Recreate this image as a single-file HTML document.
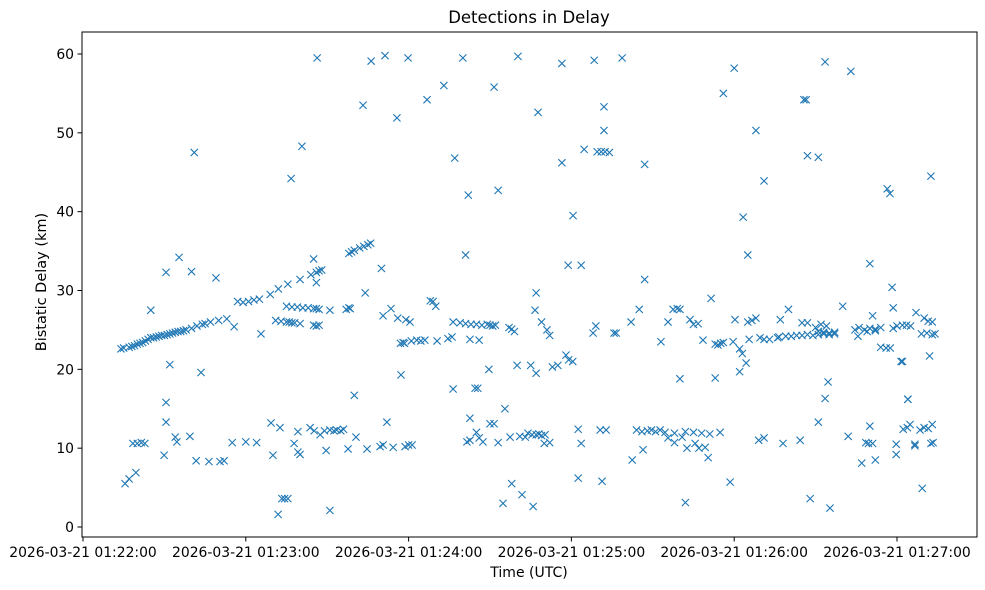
<!DOCTYPE html>
<html><head><meta charset="utf-8"><style>
html,body{margin:0;padding:0;background:#fff;}
svg{display:block;font-family:"DejaVu Sans","Liberation Sans",sans-serif;}
</style></head><body>
<svg id="chart" width="985" height="590" viewBox="0 0 985 590" xmlns="http://www.w3.org/2000/svg">
<rect x="0" y="0" width="985" height="590" fill="#fff"/>
<text x="529" y="23" text-anchor="middle" font-size="16.5" fill="#000">Detections in Delay</text>
<text x="0" y="0" transform="translate(46,282) rotate(-90)" text-anchor="middle" font-size="14.5" fill="#000">Bistatic Delay (km)</text>
<text x="529" y="577" text-anchor="middle" font-size="14" fill="#000">Time (UTC)</text>
<g id="marks"></g>
<g id="xticks"></g>
<g id="yticks"></g>
<rect x="82" y="32" width="895" height="505" fill="none" stroke="#000" stroke-width="1"/>
</svg>
<script>
// seconds after 2026-03-21 01:22:00
const times = [
14,15,17,18,19,20,21,22,23,24,25,26,27,28,29,30,31,32,33,34,35,36,37,38,40,42,44,45,47,50,53,
57,59,61,63,65,69,72,75.5,80,84,86,87,88,85,86,98,99,100,102,103.5,105,106,
71,73,75,76,77,78,80,75,77,79,81,83,85,86,87,85,86,87,91,97,98,98.5,
104,110,110.6,113.5,116,119,120.5,117,118,118.5,121,123,124.5,126,128,129,130,130.5,134.5,136,136.4,139,141,143,145,147,149,150,151,152,142.6,146,157,158,159,160,165,166.6,169,171,172,173,175,178,179,180.5,188,189,195.7,196.5,202,205,213,217.5,219,220,215.6,223.7,225,226.7,228.5,231.5,233,234,235,236,239.6,240.3,242,243,245,246.5,248,245.5,249.5,251,253,256,256.5,257,260,259,261,263,265,267,269,271,273,275,277,265,267,270,272,271,273,275,277,274,280,284.5,286,288,290,292,294,285.6,291,289,292,294,296,297.5,298.6,300,302,303.5,305,298.6,298.2,307,310,309,311,313,314,311.5,313,312,302,
41,35.4,30.6,40,49,25,32,43.5,55.7,65.6,76.7,80.7,86.3,103.2,106.2,111.3,115.7,119.8,126.8,133,137,140,142,141,151.5,153,160.3,167.7,167,176.5,176.5,180.6,178.8,183.6,184.7,188.4,189.5,191,192.4,192,192,194,198.7,207,207,236,240,243.3,245,248,251,265.7,266.5,267,271,273.5,283,290,296.4,297.4,312.5,136.4,144.5,145.5,149.6,100,117.2,167,220,233,242,244.4,274.6,273.5,301.5,304,271,
15.5,17,19.5,18.4,20,21.5,22.8,29.9,30.6,30.6,34,34.6,39.4,41.7,46.4,50.5,52,55,60,64,69.3,70,72.6,71.9,73.3,74.3,75.5,77.8,79.2,80,79.2,83.7,85.2,89,91,92.5,93.5,95,96,89.6,87.4,91,97.7,100.6,104.7,109.5,110.6,112,114.3,118.7,120,121.3,141.5,142.6,142.6,145,146,147.4,150,151.5,153,155.5,154.8,157.4,158,161,163,161.8,164,165.5,167,168,169,170.3,165.9,170,172,182.5,183.6,182.5,190.6,192.8,191.3,202.4,206.4,204,206,208,209.5,211,212.7,214.5,218,222,225,228,231,234.8,215.6,218,220.8,222.6,227,222,225.6,229.3,230.4,238.5,249,251,258,264.3,268,275.3,282,287,288.5,290,291,292,289.5,299.7,299.7,302.3,303.8,306.6,306.6,304.8,304,309.3,308.5,310,311.5,313,312.5,313.3
];
const delays = [
22.6,22.7,22.8,22.9,23.0,23.2,23.3,23.4,23.6,23.8,24.0,24.0,24.1,24.2,24.3,24.3,24.4,24.5,24.6,24.7,24.8,24.8,24.9,25.0,25.2,25.5,25.7,25.8,26.0,26.2,26.4,
28.6,28.5,28.6,28.8,28.9,29.5,30.2,30.8,31.4,32.0,32.3,32.5,32.6,34.0,31.0,34.7,34.9,35.1,35.4,35.6,35.8,36.0,
26.2,26.1,26.0,26.0,25.9,25.9,25.8,28.0,27.9,27.9,27.8,27.8,27.7,27.7,27.6,25.6,25.5,25.6,27.5,27.6,27.8,27.7,
29.7,32.8,26.8,27.7,26.5,26.3,26.0,23.3,23.4,23.3,23.6,23.7,23.6,23.7,28.7,28.6,28.0,23.6,23.9,24.1,26.0,25.9,25.8,25.7,25.7,25.6,25.7,25.6,25.5,25.6,23.8,23.7,25.3,25.1,24.8,20.5,20.5,27.5,26.0,25.0,24.3,20.3,20.5,21.8,21.2,21.0,24.6,25.5,24.6,24.6,26.0,27.6,23.5,27.6,27.7,27.6,26.0,26.3,25.7,25.8,23.7,29.0,23.2,23.1,23.3,23.4,23.5,26.3,22.6,22.0,26.0,26.2,26.5,23.8,24.0,23.8,23.8,24.0,24.1,26.3,27.6,24.2,24.2,24.3,24.3,24.4,24.3,24.4,24.5,24.4,24.5,25.9,25.9,25.3,25.7,24.8,24.7,24.6,24.7,25.5,28.0,25.0,25.3,25.0,25.2,25.1,25.3,24.2,26.8,24.8,24.9,22.8,22.7,22.7,25.2,25.5,25.6,25.6,25.5,27.8,30.4,27.2,26.5,24.5,24.6,24.4,24.5,26.1,26.0,21.7,21.0,
47.5,34.2,32.3,32.4,31.6,27.5,20.6,19.6,25.4,24.5,44.2,48.3,59.5,53.5,59.1,59.8,51.9,59.5,54.2,56.0,46.8,59.5,42.1,34.5,55.8,42.7,59.7,52.6,29.7,58.8,46.2,39.5,33.2,33.2,47.9,59.2,47.6,47.6,47.6,53.3,50.3,47.5,59.5,46.0,31.4,55.0,58.2,39.3,34.5,50.3,43.9,54.2,54.2,47.1,46.9,59.0,57.8,33.4,42.9,42.3,44.5,17.5,17.6,17.6,20.0,16.7,19.3,19.5,18.8,18.9,19.7,20.8,18.4,16.3,21.0,16.2,13.3,
5.5,6.1,6.9,10.6,10.6,10.7,10.6,9.1,15.8,13.3,11.4,10.8,11.5,8.4,8.3,8.3,8.4,10.7,10.8,10.7,13.2,9.1,12.6,1.6,3.6,3.6,3.6,10.6,9.5,9.2,12.1,12.6,12.2,12.2,12.3,12.2,12.3,12.2,12.4,9.7,11.7,2.1,9.9,11.4,9.9,10.2,10.4,13.3,10.1,10.2,10.4,10.4,10.8,11.0,13.8,12.0,11.3,10.8,13.1,13.1,10.7,15.0,3.0,11.4,5.5,11.5,11.4,4.1,11.9,11.7,11.7,11.8,11.6,11.7,2.6,10.6,10.7,12.4,10.6,6.2,12.3,12.3,5.8,8.5,9.8,12.3,12.1,12.2,12.3,12.1,12.3,12.0,11.9,12.1,12.0,11.9,11.8,12.0,11.3,10.7,11.4,10.0,10.0,3.1,10.6,10.1,8.8,5.7,11.0,11.3,10.6,11.0,3.6,2.4,11.5,8.1,10.7,12.8,10.6,8.5,10.6,9.2,10.5,12.4,12.6,10.3,10.5,13.0,16.2,4.9,12.3,12.6,12.5,13.0,10.6,10.7
];
const xTickSeconds = [0,60,120,180,240,300];
const xTickLabels = ["2026-03-21 01:22:00","2026-03-21 01:23:00","2026-03-21 01:24:00","2026-03-21 01:25:00","2026-03-21 01:26:00","2026-03-21 01:27:00"];
const yTickValues = [0,10,20,30,40,50,60];

const NS = "http://www.w3.org/2000/svg";
function xScale(t){ return 83 + t * (897 - 83) / 300; }
function yScale(d){ return 527 - d * (527 - 54) / 60; }

const marks = document.getElementById('marks');
const n = Math.min(times.length, delays.length);
for (let i = 0; i < n; i++) {
  const cx = xScale(times[i]), cy = yScale(delays[i]), s = 3.6;
  const p = document.createElementNS(NS, 'path');
  p.setAttribute('d', `M${cx-s},${cy-s}L${cx+s},${cy+s}M${cx-s},${cy+s}L${cx+s},${cy-s}`);
  p.setAttribute('stroke', '#1f77b4');
  p.setAttribute('stroke-width', '1.1');
  p.setAttribute('fill', 'none');
  
  
  marks.appendChild(p);
}

const xg = document.getElementById('xticks');
xTickSeconds.forEach((t, i) => {
  const x = xScale(t);
  const l = document.createElementNS(NS, 'line');
  l.setAttribute('x1', x); l.setAttribute('x2', x);
  l.setAttribute('y1', 537); l.setAttribute('y2', 541.5);
  l.setAttribute('stroke', '#000');
  
  
  xg.appendChild(l);
  const tx = document.createElementNS(NS, 'text');
  tx.setAttribute('x', x); tx.setAttribute('y', 557);
  tx.setAttribute('text-anchor', 'middle');
  tx.setAttribute('font-size', '13.9');
  tx.textContent = xTickLabels[i];
  
  
  xg.appendChild(tx);
});

const yg = document.getElementById('yticks');
yTickValues.forEach(v => {
  const y = yScale(v);
  const l = document.createElementNS(NS, 'line');
  l.setAttribute('x1', 77.5); l.setAttribute('x2', 82);
  l.setAttribute('y1', y); l.setAttribute('y2', y);
  l.setAttribute('stroke', '#000');
  
  
  yg.appendChild(l);
  const tx = document.createElementNS(NS, 'text');
  tx.setAttribute('x', 74); tx.setAttribute('y', y + 5);
  tx.setAttribute('text-anchor', 'end');
  tx.setAttribute('font-size', '13.9');
  tx.textContent = String(v);
  
  
  yg.appendChild(tx);
});
</script>
</body></html>
